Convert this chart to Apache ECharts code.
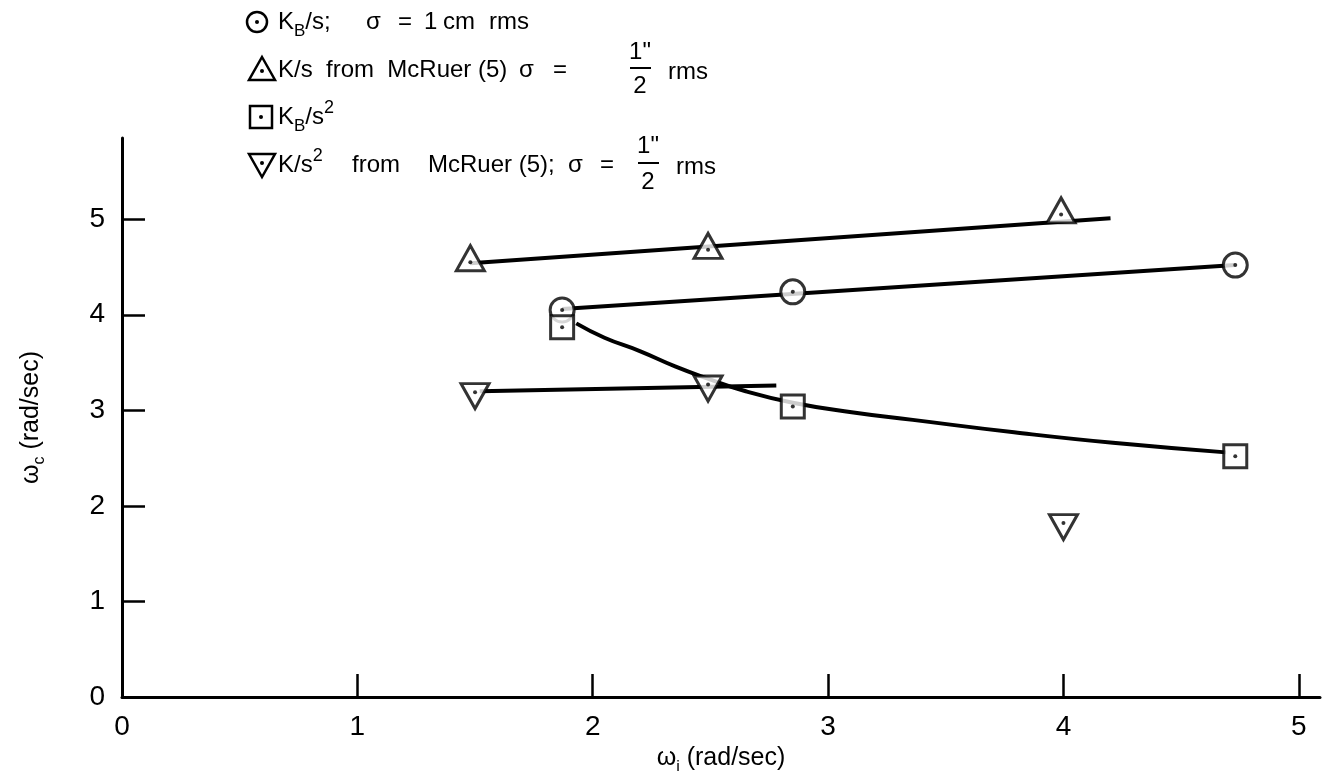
<!DOCTYPE html>
<html>
<head>
<meta charset="utf-8">
<script src="https://cdn.jsdelivr.net/npm/echarts@6/dist/echarts.min.js"></script>
<style>
  html, body { margin: 0; padding: 0; background: #fff; }
  #chart { width: 1324px; height: 771px; }
</style>
</head>
<body>
<div id="chart"></div>
<script>
// ---- Data ----
// K_B/s ; sigma = 1 cm rms  (circles)
const circleX = [1.87, 2.85, 4.73];
const circleY = [4.05, 4.24, 4.52];
const circleLineX = [1.87, 4.73];
const circleLineY = [4.06, 4.52];

// K/s from McRuer (5) sigma = 1/2" rms (triangles)
const triX = [1.48, 2.49, 3.99];
const triY = [4.55, 4.68, 5.05];
const triLineX = [1.48, 4.2];
const triLineY = [4.54, 5.01];

// K_B/s^2 (squares)
const sqX = [1.87, 2.85, 4.73];
const sqY = [3.87, 3.04, 2.52];
const sqCurveX = [1.93, 2.05, 2.2, 2.35, 2.48, 2.65, 2.85, 3.1, 3.36, 3.79, 4.21, 4.69];
const sqCurveY = [3.91, 3.76, 3.62, 3.46, 3.34, 3.2, 3.08, 2.98, 2.9, 2.77, 2.66, 2.56];

// K/s^2 from McRuer (5); sigma = 1/2" rms (inverted triangles)
const invX = [1.5, 2.49, 4.0];
const invY = [3.19, 3.27, 1.82];
const invLineX = [1.52, 2.78];
const invLineY = [3.2, 3.26];

// Axis ticks
const xTicks = [0, 1, 2, 3, 4, 5];
const yTicks = [0, 1, 2, 3, 4, 5];

// ---- Build ----
const zip = (xs, ys) => xs.map((x, i) => [x, ys[i]]);
const FONT = 'Liberation Sans';
const markerStyle = { color: '#fff', borderColor: '#000', borderWidth: 3 };
const invTriPath = 'path://M0,0L28,0L14,25Z';

function lineSeries(data, smooth) {
  return {
    type: 'line', data: data, smooth: smooth || false, symbol: 'none',
    lineStyle: { color: '#000', width: 4 }, z: 2, silent: true
  };
}
function markerSeries(data, symbol, size, offset) {
  return {
    type: 'scatter', data: data, symbol: symbol, symbolSize: size,
    symbolOffset: offset || [0, 0], itemStyle: markerStyle, z: 3, silent: true
  };
}
function dotSeries(data) {
  return {
    type: 'scatter', data: data, symbol: 'circle', symbolSize: 4,
    itemStyle: { color: '#000' }, z: 4, silent: true
  };
}

const subRich = {
  t: { fontFamily: FONT, fontSize: 24, lineHeight: 36, verticalAlign: 'middle', color: '#000' },
  b: { fontFamily: FONT, fontSize: 17, lineHeight: 36, verticalAlign: 'bottom', color: '#000' },
  p: { fontFamily: FONT, fontSize: 18, lineHeight: 36, verticalAlign: 'top', color: '#000' }
};

function txt(x, y, text, align) {
  return {
    type: 'text', z: 10, silent: true,
    style: { x: x, y: y, text: text, rich: subRich, verticalAlign: 'middle', align: align || 'left',
      fontFamily: FONT, fontSize: 24, fill: '#000' }
  };
}
function plain(x, y, text, size) {
  return {
    type: 'text', z: 10, silent: true,
    style: { x: x, y: y, text: text, verticalAlign: 'middle', align: 'center',
      fontFamily: FONT, fontSize: size || 24, fill: '#000' }
  };
}
function dot(cx, cy) {
  return { type: 'circle', z: 11, silent: true, shape: { cx: cx, cy: cy, r: 2 }, style: { fill: '#000' } };
}
const iconStyle = { fill: '#fff', stroke: '#000', lineWidth: 2.5 };

const graphics = [
  // line 1: circle
  { type: 'circle', z: 10, silent: true, shape: { cx: 257, cy: 22, r: 10 }, style: iconStyle },
  dot(257, 22),
  txt(278, 22, '{t|K}{b|B}{t|/s;}'),
  txt(366, 22, '{t|σ}'),
  txt(398, 22, '{t|=}'),
  txt(424, 22, '{t|1}'),
  txt(443, 22, '{t|cm}'),
  txt(489, 22, '{t|rms}'),
  // line 2: triangle
  { type: 'polygon', z: 10, silent: true, shape: { points: [[262, 57], [275, 80], [249, 80]] }, style: iconStyle },
  dot(262, 71),
  txt(278, 70, '{t|K/s  from  McRuer (5)}'),
  txt(519, 70, '{t|σ}'),
  txt(553, 70, '{t|=}'),
  plain(640, 52, '1"', 24),
  { type: 'line', z: 10, silent: true, shape: { x1: 630, y1: 68, x2: 651, y2: 68 }, style: { stroke: '#000', lineWidth: 2 } },
  plain(640, 86, '2', 24),
  txt(668, 72, '{t|rms}'),
  // line 3: square
  { type: 'rect', z: 10, silent: true, shape: { x: 250, y: 106, width: 22, height: 22 }, style: iconStyle },
  dot(261, 117),
  txt(278, 117, '{t|K}{b|B}{t|/s}{p|2}'),
  // line 4: inverted triangle
  { type: 'polygon', z: 10, silent: true, shape: { points: [[249, 154], [275, 154], [262, 177]] }, style: iconStyle },
  dot(262, 163),
  txt(278, 165, '{t|K/s}{p|2}'),
  txt(352, 165, '{t|from}'),
  txt(428, 165, '{t|McRuer (5);}'),
  txt(568, 165, '{t|σ}'),
  txt(600, 165, '{t|=}'),
  plain(648, 146, '1"', 24),
  { type: 'line', z: 10, silent: true, shape: { x1: 638, y1: 163, x2: 659, y2: 163 }, style: { stroke: '#000', lineWidth: 2 } },
  plain(648, 182, '2', 24),
  txt(676, 167, '{t|rms}')
];

const axisCommon = {
  axisLine: { show: true, onZero: false, lineStyle: { color: '#000', width: 3 } },
  axisTick: { show: true, inside: true, length: 23, lineStyle: { color: '#000', width: 2.5 } },
  splitLine: { show: false },
  nameTextStyle: { color: '#000' }
};

const nameRich = {
  w: { fontFamily: FONT, fontSize: 25, lineHeight: 34, verticalAlign: 'middle', color: '#000' },
  s: { fontFamily: FONT, fontSize: 16, lineHeight: 34, verticalAlign: 'bottom', color: '#000' }
};

const option = {
  animation: false,
  backgroundColor: '#fff',
  grid: { left: 122, right: 4, top: 138, bottom: 74, containLabel: false, outerBoundsMode: 'none' },
  xAxis: Object.assign({}, axisCommon, {
    type: 'value', min: 0, max: 5.09, interval: 1,
    axisTick: Object.assign({}, axisCommon.axisTick, { customValues: xTicks }),
    axisLabel: { customValues: xTicks, margin: 16, fontFamily: FONT, fontSize: 28, color: '#000' },
    name: '{w|ω}{s|i}{w| (rad/sec)}',
    nameLocation: 'middle', nameGap: 34,
    nameTextStyle: { color: '#000', rich: nameRich }
  }),
  yAxis: Object.assign({}, axisCommon, {
    type: 'value', min: 0, max: 5.85, interval: 1,
    axisTick: Object.assign({}, axisCommon.axisTick, { customValues: yTicks }),
    axisLabel: { customValues: yTicks, margin: 17, fontFamily: FONT, fontSize: 28, color: '#000' },
    name: '{w|ω}{s|c}{w| (rad/sec)}',
    nameLocation: 'middle', nameGap: 74, nameRotate: 90,
    nameTextStyle: { color: '#000', rich: nameRich }
  }),
  graphic: graphics,
  series: [
    lineSeries(zip(circleLineX, circleLineY)),
    lineSeries(zip(triLineX, triLineY)),
    lineSeries(zip(sqCurveX, sqCurveY), 0.5),
    lineSeries(zip(invLineX, invLineY)),
    markerSeries(zip(circleX, circleY), 'circle', 24),
    markerSeries(zip(triX, triY), 'triangle', [28, 25], [0, -4]),
    markerSeries(zip(sqX, sqY), 'rect', 23),
    markerSeries(zip(invX, invY), invTriPath, [28, 25], [0, 4]),
    dotSeries(zip(circleX, circleY)),
    dotSeries(zip(triX, triY)),
    dotSeries(zip(sqX, sqY)),
    dotSeries(zip(invX, invY))
  ]
};

const chart = echarts.init(document.getElementById('chart'), null, { renderer: 'canvas' });
chart.setOption(option);
</script>
</body>
</html>
